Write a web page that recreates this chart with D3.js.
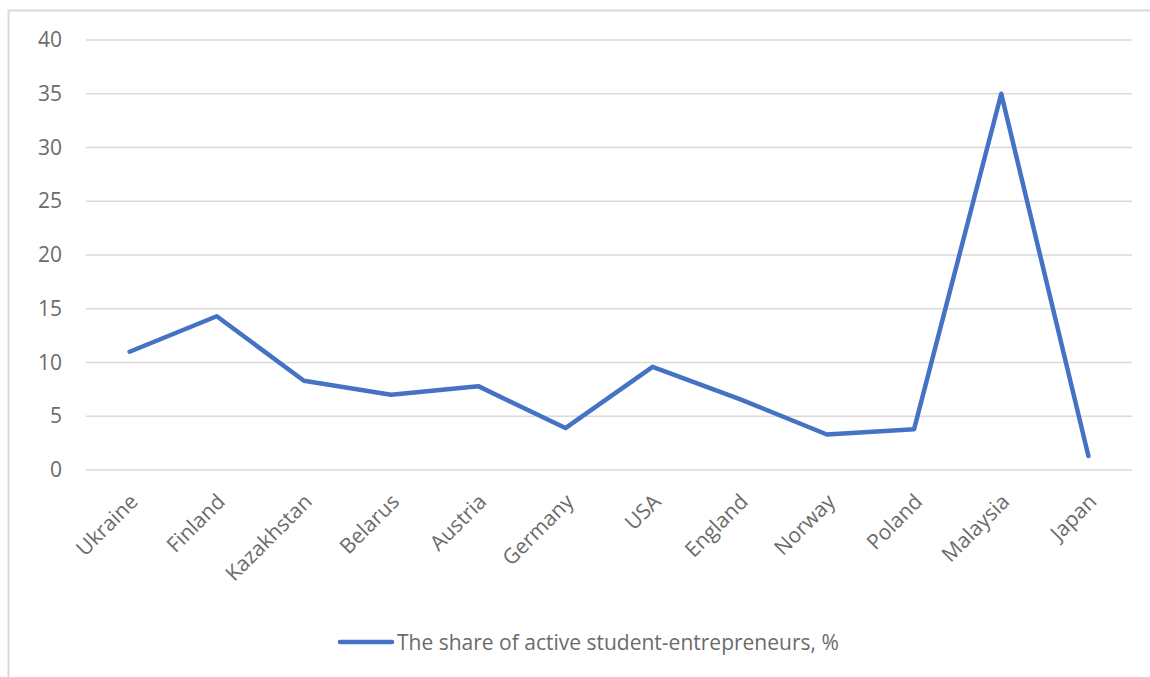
<!DOCTYPE html>
<html>
<head>
<meta charset="utf-8">
<script src="https://cdn.jsdelivr.net/npm/d3@7"></script>
<style>
  body { margin: 0; background: #fff; }
  text { font-family: "Open Sans", "Noto Sans", sans-serif; fill: #6b6b6b; }
</style>
</head>
<body>
<div class="chart"></div>
<script>
const countries = ["Ukraine", "Finland", "Kazakhstan", "Belarus", "Austria", "Germany",
                   "USA", "England", "Norway", "Poland", "Malaysia", "Japan"];
const shares = [11, 14.3, 8.3, 7, 7.8, 3.9, 9.6, 6.6, 3.3, 3.8, 35, 1.3];
const yTicks = [0, 5, 10, 15, 20, 25, 30, 35, 40];
const seriesName = "The share of active student-entrepreneurs, %";

const width = 1150, height = 677;
const plot = { left: 86, right: 1132, top: 40, bottom: 470 };

const svg = d3.select(".chart").append("svg")
  .attr("width", width)
  .attr("height", height);

// chart frame (only top and left edges are visible in the crop)
svg.append("path")
  .attr("d", `M8.5,${height} L8.5,10.5 L${width},10.5`)
  .attr("fill", "none")
  .attr("stroke", "#d9d9d9")
  .attr("stroke-width", 2);

const x = d3.scalePoint()
  .domain(countries)
  .range([plot.left, plot.right])
  .padding(0.5);

const y = d3.scaleLinear()
  .domain([0, 40])
  .range([plot.bottom, plot.top]);

// gridlines
svg.append("g")
  .selectAll("line")
  .data(yTicks)
  .join("line")
  .attr("x1", plot.left)
  .attr("x2", plot.right)
  .attr("y1", d => y(d))
  .attr("y2", d => y(d))
  .attr("stroke", "#d9d9d9")
  .attr("stroke-width", 1.5);

// y axis labels
const yAxis = svg.append("g")
  .attr("transform", `translate(${plot.left - 24},0)`)
  .call(d3.axisLeft(y).tickValues(yTicks).tickSize(0).tickPadding(0));
yAxis.select(".domain").remove();
yAxis.selectAll("text")
  .style("font-size", "21px")
  .style("font-family", "'Open Sans', sans-serif")
  .attr("fill", "#6b6b6b");

// x axis labels, rotated
const xAxis = svg.append("g")
  .attr("transform", `translate(0,${plot.bottom})`)
  .call(d3.axisBottom(x).tickSize(0).tickPadding(0));
xAxis.select(".domain").remove();
xAxis.selectAll("text")
  .style("font-size", "21px")
  .style("font-family", "'Open Sans', sans-serif")
  .attr("fill", "#6b6b6b")
  .attr("text-anchor", "end")
  .attr("dy", null)
  .attr("transform", "translate(9,33) rotate(-45)");

// series line
const line = d3.line()
  .x((d, i) => x(countries[i]))
  .y(d => y(d));

svg.append("path")
  .datum(shares)
  .attr("d", line)
  .attr("fill", "none")
  .attr("stroke", "#4472c4")
  .attr("stroke-width", 4.5)
  .attr("stroke-linejoin", "round")
  .attr("stroke-linecap", "round");

// legend
const legend = svg.append("g").attr("transform", "translate(340,642)");
legend.append("line")
  .attr("x1", 0).attr("x2", 52)
  .attr("stroke", "#4472c4")
  .attr("stroke-width", 4.5)
  .attr("stroke-linecap", "round");
legend.append("text")
  .attr("x", 57)
  .attr("y", 8)
  .style("font-size", "21px")
  .text(seriesName);
</script>
</body>
</html>
